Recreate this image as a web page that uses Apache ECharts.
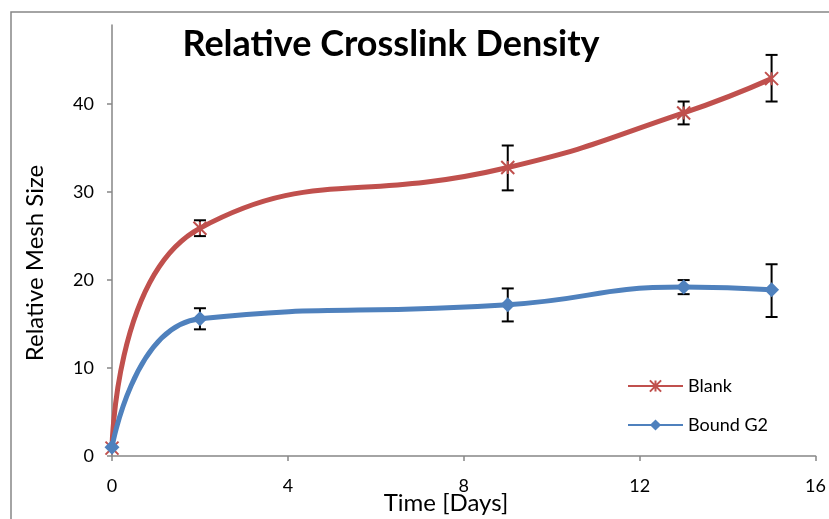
<!DOCTYPE html>
<html>
<head>
<meta charset="utf-8">
<script src="https://cdn.jsdelivr.net/npm/echarts@6/dist/echarts.min.js"></script>
<style>
  html, body { margin: 0; padding: 0; background: #ffffff; }
  #chart { width: 829px; height: 519px; }
</style>
</head>
<body>
<div id="chart"></div>
<script>
// Measurement days
const days = [0, 2, 9, 13, 15];

// Relative mesh size per series
const blankValues = [0.9, 25.9, 32.8, 39.0, 42.9];
const boundValues = [1.0, 15.6, 17.2, 19.2, 18.9];

// Error bar limits (low / high)
const blankLow  = [0.9, 25.0, 30.2, 37.7, 40.3];
const blankHigh = [0.9, 26.8, 35.3, 40.3, 45.6];
const boundLow  = [1.0, 14.4, 15.3, 18.4, 15.8];
const boundHigh = [1.0, 16.8, 19.05, 20.0, 21.8];

// Axis ticks
const xTicks = [0, 4, 8, 12, 16];
const yTicks = [0, 10, 20, 30, 40];

const RED = '#C0504D';
const BLUE = '#4F81BD';
const AXIS = '#868686';
const FONT = 'Lato, "Open Sans", sans-serif';

const pairs = (xs, ys) => xs.map((x, i) => [x, ys[i]]);
const bars = (xs, lo, hi) => xs.map((x, i) => [x, lo[i], hi[i]]);

// Vertical error bar with caps
function renderErrorBar(params, api) {
  const x = api.value(0);
  const top = api.coord([x, api.value(2)]);
  const bot = api.coord([x, api.value(1)]);
  if (Math.abs(top[1] - bot[1]) < 0.5) return null;
  const half = 6;
  const style = { stroke: '#000000', lineWidth: 2 };
  return {
    type: 'group',
    children: [
      { type: 'line', shape: { x1: top[0], y1: top[1], x2: bot[0], y2: bot[1] }, style },
      { type: 'line', shape: { x1: top[0] - half, y1: top[1], x2: top[0] + half, y2: top[1] }, style },
      { type: 'line', shape: { x1: bot[0] - half, y1: bot[1], x2: bot[0] + half, y2: bot[1] }, style }
    ]
  };
}

const chart = echarts.init(document.getElementById('chart'), null, { renderer: 'canvas' });

chart.setOption({
  animation: false,
  backgroundColor: '#ffffff',
  textStyle: { fontFamily: FONT },
  graphic: [
    {
      type: 'rect',
      shape: { x: 11, y: 12, width: 900, height: 600 },
      style: { fill: 'none', stroke: AXIS, lineWidth: 1.5 },
      silent: true, z: -10
    },
    {
      type: 'text',
      x: 391, y: 44,
      style: {
        text: 'Relative Crosslink Density',
        align: 'center', verticalAlign: 'middle',
        font: 'bold 36px ' + FONT, fill: '#000000'
      }
    },
    {
      type: 'text',
      x: 35, y: 263,
      rotation: Math.PI / 2,
      style: {
        text: 'Relative Mesh Size',
        align: 'center', verticalAlign: 'middle',
        font: '24px ' + FONT, fill: '#000000'
      }
    },
    {
      type: 'text',
      x: 446, y: 503,
      style: {
        text: 'Time [Days]',
        align: 'center', verticalAlign: 'middle',
        font: '24px ' + FONT, fill: '#000000'
      }
    }
  ],
  grid: { left: 112, right: 11, top: 25, bottom: 63 },
  legend: {
    orient: 'vertical',
    left: 622,
    top: 372,
    itemWidth: 55,
    itemHeight: 14,
    itemGap: 21,
    textStyle: { fontSize: 18, color: '#000000', fontFamily: FONT },
    data: ['Blank', 'Bound G2']
  },
  xAxis: {
    type: 'value',
    min: 0, max: 16, interval: 4,
    axisLine: { lineStyle: { color: AXIS, width: 1.5 } },
    axisTick: { show: true, length: 5, lineStyle: { color: AXIS, width: 1.5 }, customValues: xTicks },
    axisLabel: { customValues: xTicks, fontSize: 18, color: '#000000', margin: 21, fontFamily: FONT },
    splitLine: { show: false }
  },
  yAxis: {
    type: 'value',
    min: 0, max: 49,
    axisLine: { show: true, lineStyle: { color: AXIS, width: 1.5 } },
    axisTick: { show: true, length: 5, lineStyle: { color: AXIS, width: 1.5 }, customValues: yTicks },
    axisLabel: { customValues: yTicks, fontSize: 18, color: '#000000', margin: 18, fontFamily: FONT },
    splitLine: { show: false }
  },
  series: [
    {
      name: 'Blank',
      type: 'line',
      smooth: 0.5,
      data: pairs(days, blankValues),
      symbol: 'path://M0,0L10,10M10,0L0,10M5,0L5,10',
      symbolSize: 13,
      itemStyle: { color: RED, borderColor: RED, borderWidth: 2 },
      lineStyle: { color: RED, width: 5 },
      z: 3
    },
    {
      name: 'Bound G2',
      type: 'line',
      smooth: 0.5,
      data: pairs(days, boundValues),
      symbol: 'diamond',
      symbolSize: 15,
      itemStyle: { color: BLUE },
      lineStyle: { color: BLUE, width: 5 },
      z: 3
    },
    {
      name: 'blankErr',
      type: 'custom',
      renderItem: renderErrorBar,
      data: bars(days, blankLow, blankHigh),
      encode: { x: 0, y: [1, 2] },
      z: 2, silent: true
    },
    {
      name: 'boundErr',
      type: 'custom',
      renderItem: renderErrorBar,
      data: bars(days, boundLow, boundHigh),
      encode: { x: 0, y: [1, 2] },
      z: 2, silent: true
    }
  ]
});
</script>
</body>
</html>
